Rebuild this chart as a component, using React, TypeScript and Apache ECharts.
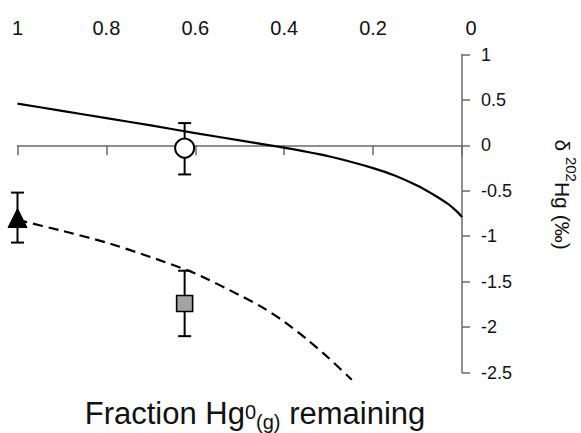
import React, { useEffect, useRef } from "react";
import * as echarts from "echarts";

// Model curves: fraction of Hg0(g) remaining vs delta202Hg (permil)
const solidCurveF = [1, 0.9, 0.8, 0.7, 0.6, 0.5, 0.432, 0.4, 0.3, 0.2, 0.15, 0.1, 0.06, 0.03, 0.02, 0.01, 0];
const solidCurveD = [0.46, 0.38, 0.3, 0.22, 0.135, 0.055, 0, -0.025, -0.12, -0.25, -0.335, -0.445, -0.555, -0.65, -0.69, -0.735, -0.79];

const dashedCurveF = [1, 0.9, 0.8, 0.7, 0.6, 0.5, 0.45, 0.4, 0.35, 0.3, 0.248];
const dashedCurveD = [-0.82, -0.94, -1.07, -1.23, -1.41, -1.65, -1.78, -1.94, -2.13, -2.34, -2.58];

// Measured points
const pointSymbols = ["triangle", "circle", "square"];
const pointF = [1, 0.624, 0.624];
const pointD = [-0.8, -0.03, -1.74];
const pointHigh = [-0.52, 0.245, -1.38];
const pointLow = [-1.07, -0.32, -2.1];

// Axis ranges
const xMin = 0;
const xMax = 1;
const xStep = 0.2;
const yMin = -2.5;
const yMax = 1;
const yStep = 0.5;

const FONT = '"Liberation Sans", Arial, Helvetica, sans-serif';
const AXIS_COLOR = "#6a6a6a";
const TEXT_COLOR = "#111";

export default function App() {
  const ref = useRef<HTMLDivElement>(null);

  useEffect(() => {
    if (!ref.current) return;
    const chart = echarts.init(ref.current, undefined, { renderer: "svg" });

    const solidData = solidCurveF.map((f, i) => [f, solidCurveD[i]]);
    const dashedData = dashedCurveF.map((f, i) => [f, dashedCurveD[i]]);
    const errData = pointF.map((f, i) => [f, pointHigh[i], pointLow[i]]);

    const markerStyles: Record<string, any> = {
      triangle: { symbol: "triangle", symbolSize: [19, 19], itemStyle: { color: "#000", borderColor: "#000", borderWidth: 1, opacity: 1 } },
      circle: { symbol: "circle", symbolSize: 19, itemStyle: { color: "#fff", borderColor: "#000", borderWidth: 2, opacity: 1 } },
      square: { symbol: "rect", symbolSize: [16, 16], itemStyle: { color: "#a3a3a3", borderColor: "#000", borderWidth: 1.6, opacity: 1 } },
    };

    const pointSeries = pointSymbols.map((s, i) => ({
      type: "scatter",
      xAxisIndex: 1,
      z: 5,
      clip: false,
      symbol: markerStyles[s].symbol,
      symbolSize: markerStyles[s].symbolSize,
      itemStyle: markerStyles[s].itemStyle,
      data: [[pointF[i], pointD[i]]],
    }));

    chart.setOption({
      animation: false,
      grid: { left: 17.5, right: 119, top: 54.5, bottom: 60.5, containLabel: false },
      xAxis: [
        {
          type: "value",
          position: "top",
          min: xMin,
          max: xMax,
          interval: xStep,
          inverse: true,
          axisLine: { show: false, onZero: false },
          axisTick: { show: false },
          splitLine: { show: false },
          axisLabel: {
            fontSize: 20,
            fontFamily: FONT,
            color: TEXT_COLOR,
            margin: 17,
            formatter: (v: number) => (v === 0 ? "{z|0}" : String(v)),
            rich: { z: { fontSize: 20, fontFamily: FONT, color: TEXT_COLOR, padding: [0, 0, 0, 18] } },
          },
        },
        {
          type: "value",
          position: "bottom",
          min: xMin,
          max: xMax,
          interval: xStep,
          inverse: true,
          axisLine: { show: true, onZero: true, lineStyle: { color: AXIS_COLOR, width: 1.5 } },
          axisTick: { show: true, length: 10, lineStyle: { color: AXIS_COLOR, width: 1.5 } },
          axisLabel: { show: false },
          splitLine: { show: false },
        },
      ],
      yAxis: {
        type: "value",
        position: "right",
        min: yMin,
        max: yMax,
        interval: yStep,
        axisLine: { show: true, onZero: false, lineStyle: { color: AXIS_COLOR, width: 1.5 } },
        axisTick: { show: true, length: 8, lineStyle: { color: AXIS_COLOR, width: 1.5 } },
        splitLine: { show: false },
        axisLabel: { fontSize: 18, fontFamily: FONT, color: TEXT_COLOR, margin: 19 },
      },
      series: [
        {
          type: "line",
          xAxisIndex: 1,
          data: solidData,
          showSymbol: false,
          smooth: 0.25,
          clip: false,
          z: 2,
          lineStyle: { color: "#000", width: 2.2 },
        },
        {
          type: "line",
          xAxisIndex: 1,
          data: dashedData,
          showSymbol: false,
          smooth: 0.25,
          clip: false,
          z: 2,
          lineStyle: { color: "#000", width: 2.2, type: [10, 6] },
        },
        {
          type: "custom",
          xAxisIndex: 1,
          clip: false,
          z: 3,
          encode: { x: 0, y: [1, 2] },
          data: errData,
          renderItem: (params: any, api: any) => {
            const x = api.value(0);
            const p1 = api.coord([x, api.value(1)]);
            const p2 = api.coord([x, api.value(2)]);
            const w = 6.5;
            const st = { stroke: "#000", lineWidth: 2 };
            return {
              type: "group",
              children: [
                { type: "line", shape: { x1: p1[0], y1: p1[1], x2: p2[0], y2: p2[1] }, style: st },
                { type: "line", shape: { x1: p1[0] - w, y1: p1[1], x2: p1[0] + w, y2: p1[1] }, style: st },
                { type: "line", shape: { x1: p2[0] - w, y1: p2[1], x2: p2[0] + w, y2: p2[1] }, style: st },
              ],
            };
          },
        },
        ...pointSeries,
      ],
      graphic: [
        {
          type: "text",
          x: 255,
          y: 398,
          style: {
            text: "{m|Fraction Hg}{sup|0}{sub|(g)}{m| remaining}",
            align: "center",
            verticalAlign: "top",
            fill: TEXT_COLOR,
            rich: {
              m: { fontSize: 31, lineHeight: 31, fontFamily: FONT, fill: TEXT_COLOR, verticalAlign: "top" },
              sup: { fontSize: 20, lineHeight: 20, fontFamily: FONT, fill: TEXT_COLOR, verticalAlign: "top", padding: [4, 0, 0, 0] },
              sub: { fontSize: 20, lineHeight: 20, fontFamily: FONT, fill: TEXT_COLOR, verticalAlign: "top", padding: [14, 0, 0, 0] },
            },
          },
        },
        {
          type: "text",
          x: 579,
          y: 194.5,
          rotation: -Math.PI / 2,
          style: {
            text: "{m|δ }{sup|202}{m|Hg (‰)}",
            align: "center",
            verticalAlign: "top",
            fill: TEXT_COLOR,
            rich: {
              m: { fontSize: 21, lineHeight: 21, fontFamily: FONT, fill: TEXT_COLOR, verticalAlign: "top", padding: [6, 0, 0, 0] },
              sup: { fontSize: 15, lineHeight: 15, fontFamily: FONT, fill: TEXT_COLOR, verticalAlign: "top", padding: [0, 0, 0, 0] },
            },
          },
        },
      ],
    });

    return () => chart.dispose();
  }, []);

  return (
    <div
      ref={ref}
      style={{ position: "absolute", left: 0, top: 0, width: 581, height: 433, background: "#fff" }}
    />
  );
}
